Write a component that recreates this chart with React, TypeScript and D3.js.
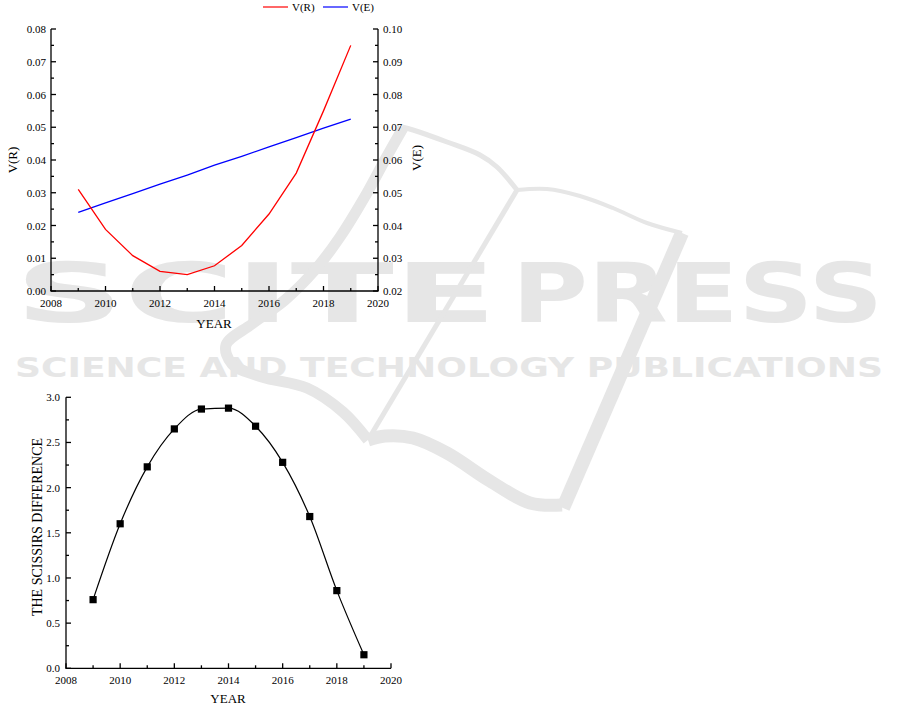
import React from 'react';
import * as d3 from 'd3';

// ---------- data ----------
const years = [2009, 2010, 2011, 2012, 2013, 2014, 2015, 2016, 2017, 2018, 2019];
const vR = [0.031, 0.0188, 0.0108, 0.006, 0.005, 0.0077, 0.0139, 0.0235, 0.036, 0.055, 0.075];
const vE = [0.044, 0.0469, 0.0497, 0.0526, 0.0554, 0.0584, 0.0611, 0.064, 0.0668, 0.0697, 0.0725];
const scissors = [0.76, 1.6, 2.23, 2.65, 2.87, 2.88, 2.68, 2.28, 1.68, 0.86, 0.15];

const xTicks = [2008, 2010, 2012, 2014, 2016, 2018, 2020];
const xMinor = [2009, 2011, 2013, 2015, 2017, 2019];
const leftTicks1 = [0, 0.01, 0.02, 0.03, 0.04, 0.05, 0.06, 0.07, 0.08];
const rightTicks1 = [0.02, 0.03, 0.04, 0.05, 0.06, 0.07, 0.08, 0.09, 0.1];
const yTicks2 = [0, 0.5, 1.0, 1.5, 2.0, 2.5, 3.0];

const seriesNames = ['V(R)', 'V(E)'];
const seriesColors = ['#ff0000', '#0000ff'];

const FONT = '"Liberation Serif", "Times New Roman", serif';
const WM = '#e6e6e6';

const mid = (arr: number[]) => arr.slice(0, -1).map((v, i) => (v + arr[i + 1]) / 2);

function Watermark() {
  const curve = d3.line().curve(d3.curveCatmullRom.alpha(0.5));
  const arcA: [number, number][] = [[403, 128], [386, 158], [367, 193], [340, 237], [315, 270], [285, 300], [252, 324], [226, 345], [232, 364], [262, 377], [307, 388], [343, 412], [368, 440]];
  const wave: [number, number][] = [[368, 440], [385, 436], [413, 438], [447, 453], [490, 481], [530, 503], [562, 505]];
  const thinWave: [number, number][] = [[682, 233], [647, 223], [613, 208], [580, 196], [547, 189], [517, 190]];
  const topArc: [number, number][] = [[517, 190], [497, 167], [480, 155], [447, 142], [413, 130], [402, 127]];
  return (
    <g>
      <text y={322} fontFamily='"DejaVu Sans", sans-serif' fontWeight="bold" fontSize={82} fill={WM}>
        <tspan x={15} textLength={482} lengthAdjust="spacingAndGlyphs">SCITE</tspan>
        <tspan x={512} textLength={371} lengthAdjust="spacingAndGlyphs">PRESS</tspan>
      </text>
      <text x={15} y={377} fontFamily='"DejaVu Sans", sans-serif' fontWeight="bold" fontSize={26}
        textLength={868} lengthAdjust="spacingAndGlyphs" fill={WM}>SCIENCE AND TECHNOLOGY PUBLICATIONS</text>
      <path d={curve(arcA) || ''} fill="none" stroke={WM} strokeWidth={11} />
      <path d={curve(wave) || ''} fill="none" stroke={WM} strokeWidth={13} />
      <path d="M563,508 L682,233" fill="none" stroke={WM} strokeWidth={14} />
      <path d={curve(thinWave) || ''} fill="none" stroke={WM} strokeWidth={4} />
      <path d={curve(topArc) || ''} fill="none" stroke={WM} strokeWidth={5} />
      <path d="M517,190 L368,440" fill="none" stroke={WM} strokeWidth={5} />
    </g>
  );
}

function TopChart() {
  const x = d3.scaleLinear().domain([2008, 2020]).range([51, 378]);
  const yL = d3.scaleLinear().domain([0, 0.08]).range([291, 29]);
  const yR = d3.scaleLinear().domain([0.02, 0.1]).range([291, 29]);
  const lineR = d3.line<number>().x((_, i) => x(years[i])).y((d) => yL(d));
  const lineE = d3.line<number>().x((_, i) => x(years[i])).y((d) => yR(d));
  const [x0, x1] = x.range();
  const [yb, yt] = yL.range();
  return (
    <g fontFamily={FONT} fill="#000">
      {seriesNames.map((n, i) => (
        <g key={n} transform={`translate(${263 + i * 60},0)`}>
          <line x1={0} x2={25} y1={7} y2={7} stroke={seriesColors[i]} strokeWidth={1.2} />
          <text x={29} y={11} fontSize={11}>{n}</text>
        </g>
      ))}
      <path d={lineE(vE) || ''} fill="none" stroke={seriesColors[1]} strokeWidth={1.3} />
      <path d={lineR(vR) || ''} fill="none" stroke={seriesColors[0]} strokeWidth={1.3} />
      <g stroke="#000" strokeWidth={1.3} fill="none">
        <line x1={x0} x2={x0} y1={yt} y2={yb} />
        <line x1={x1} x2={x1} y1={yt} y2={yb} />
        <line x1={x0 - 0.6} x2={x1 + 0.6} y1={yb} y2={yb} />
        {xTicks.map((t) => <line key={'xt' + t} x1={x(t)} x2={x(t)} y1={yb} y2={yb - 5} />)}
        {xMinor.map((t) => <line key={'xm' + t} x1={x(t)} x2={x(t)} y1={yb} y2={yb - 3} />)}
        {leftTicks1.map((t) => <line key={'lt' + t} x1={x0} x2={x0 + 5} y1={yL(t)} y2={yL(t)} />)}
        {mid(leftTicks1).map((t) => <line key={'lm' + t} x1={x0} x2={x0 + 3} y1={yL(t)} y2={yL(t)} />)}
        {rightTicks1.map((t) => <line key={'rt' + t} x1={x1} x2={x1 - 5} y1={yR(t)} y2={yR(t)} />)}
        {mid(rightTicks1).map((t) => <line key={'rm' + t} x1={x1} x2={x1 - 3} y1={yR(t)} y2={yR(t)} />)}
      </g>
      {xTicks.map((t) => (
        <text key={'xl' + t} x={x(t)} y={307} fontSize={11} textAnchor="middle">{t}</text>
      ))}
      {leftTicks1.map((t) => (
        <text key={'ll' + t} x={46} y={yL(t) + 4} fontSize={11} textAnchor="end">{t.toFixed(2)}</text>
      ))}
      {rightTicks1.map((t) => (
        <text key={'rl' + t} x={383} y={yR(t) + 4} fontSize={11} textAnchor="start">{t.toFixed(2)}</text>
      ))}
      <text x={214} y={328} fontSize={13} textAnchor="middle">YEAR</text>
      <text transform="translate(17,160) rotate(-90)" fontSize={13} textAnchor="middle">V(R)</text>
      <text transform="translate(421,158) rotate(-90)" fontSize={13} textAnchor="middle">V(E)</text>
    </g>
  );
}

function BottomChart() {
  const x = d3.scaleLinear().domain([2008, 2020]).range([66, 391]);
  const y = d3.scaleLinear().domain([0, 3]).range([668.3, 397.3]);
  const line = d3.line<number>().x((_, i) => x(years[i])).y((d) => y(d)).curve(d3.curveMonotoneX);
  const [x0, x1] = x.range();
  const [yb, yt] = y.range();
  return (
    <g fontFamily={FONT} fill="#000">
      <path d={line(scissors) || ''} fill="none" stroke="#000" strokeWidth={1.2} />
      {scissors.map((v, i) => (
        <rect key={'m' + i} x={x(years[i]) - 3.6} y={y(v) - 3.6} width={7.2} height={7.2} fill="#000" />
      ))}
      <g stroke="#000" strokeWidth={1.3} fill="none">
        <line x1={x0} x2={x0} y1={yt} y2={yb} />
        <line x1={x0 - 0.6} x2={x1} y1={yb} y2={yb} />
        {xTicks.map((t) => <line key={'xt' + t} x1={x(t)} x2={x(t)} y1={yb} y2={yb - 5} />)}
        {xMinor.map((t) => <line key={'xm' + t} x1={x(t)} x2={x(t)} y1={yb} y2={yb - 3} />)}
        {yTicks2.map((t) => <line key={'yt' + t} x1={x0} x2={x0 + 5} y1={y(t)} y2={y(t)} />)}
        {mid(yTicks2).map((t) => <line key={'ym' + t} x1={x0} x2={x0 + 3} y1={y(t)} y2={y(t)} />)}
      </g>
      {xTicks.map((t) => (
        <text key={'xl' + t} x={x(t)} y={684} fontSize={11} textAnchor="middle">{t}</text>
      ))}
      {yTicks2.map((t) => (
        <text key={'yl' + t} x={60} y={y(t) + 4} fontSize={11} textAnchor="end">{t.toFixed(1)}</text>
      ))}
      <text x={228} y={703} fontSize={13} textAnchor="middle">YEAR</text>
      <text transform="translate(42,527) rotate(-90)" fontSize={14} textAnchor="middle">THE SCISSIRS DIFFERENCE</text>
    </g>
  );
}

export default function App() {
  return (
    <svg width={901} height={707} style={{ position: 'absolute', left: 0, top: 0, background: '#fff' }}>
      <rect width={901} height={707} fill="#fff" />
      <Watermark />
      <TopChart />
      <BottomChart />
    </svg>
  );
}
